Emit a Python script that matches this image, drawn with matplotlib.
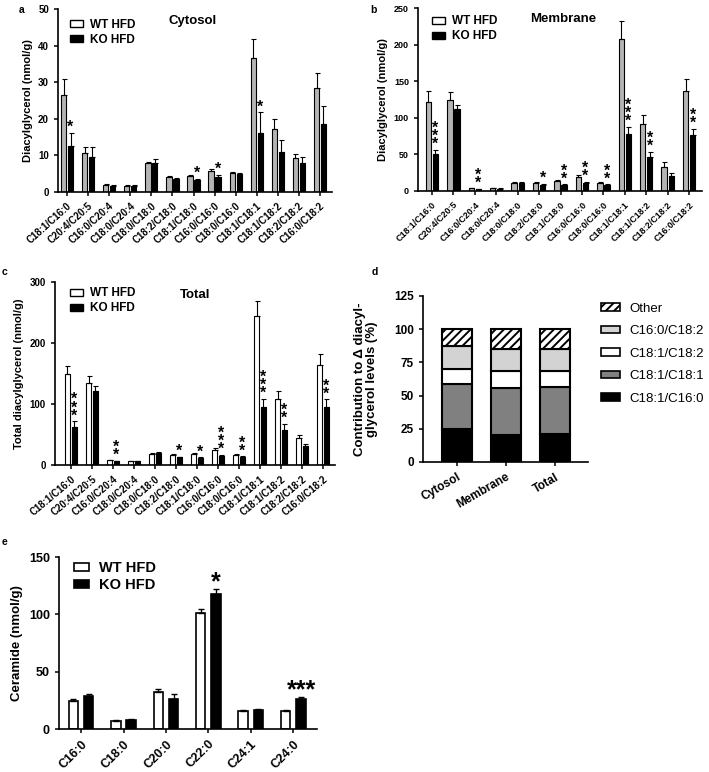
import matplotlib.pyplot as plt
import numpy as np
from matplotlib.patches import Patch

plt.rcParams['font.family'] = ['Liberation Sans', 'DejaVu Sans']
plt.rcParams['hatch.linewidth'] = 1.4

# ---- Data: diacylglycerol species (panels a-c) ----
species = ["C18:1/C16:0", "C20:4/C20:5", "C16:0/C20:4", "C18:0/C20:4", "C18:0/C18:0",
           "C18:2/C18:0", "C18:1/C18:0", "C16:0/C16:0", "C18:0/C16:0", "C18:1/C18:1",
           "C18:1/C18:2", "C18:2/C18:2", "C16:0/C18:2"]

cyto_wt = [26.5, 10.7, 2.0, 1.7, 7.8, 4.0, 4.4, 5.7, 5.2, 36.6, 17.3, 9.3, 28.4]
cyto_wt_err = [4.4, 1.6, 0.3, 0.2, 0.4, 0.4, 0.3, 0.7, 0.4, 5.1, 2.6, 1.0, 4.0]
cyto_ko = [12.5, 9.5, 1.7, 1.7, 8.0, 3.5, 3.3, 4.2, 4.8, 16.2, 10.8, 7.9, 18.7]
cyto_ko_err = [3.7, 2.8, 0.2, 0.2, 1.0, 0.3, 0.3, 0.5, 0.4, 5.6, 3.3, 1.6, 4.7]
cyto_stars = {0: "*", 6: "*", 7: "*", 9: "*"}

memb_wt = [121.6, 124.3, 3.6, 3.6, 11.3, 10.9, 13.2, 19.0, 10.9, 207.4, 92.1, 33.1, 136.6]
memb_wt_err = [15.0, 10.5, 0.9, 0.5, 1.4, 1.8, 1.8, 2.3, 1.8, 24.5, 12.3, 5.9, 16.8]
memb_ko = [49.9, 112.0, 2.3, 3.2, 11.3, 8.2, 7.7, 10.4, 7.7, 78.5, 46.7, 20.9, 76.0]
memb_ko_err = [6.4, 6.0, 0.4, 0.4, 1.4, 1.3, 1.4, 1.8, 1.4, 9.5, 6.8, 4.1, 9.0]
memb_stars = {0: "***", 2: "**", 5: "*", 6: "**", 7: "**", 8: "**", 9: "***", 10: "**", 12: "**"}

total_wt = [148.8, 135.1, 7.6, 6.5, 18.5, 15.8, 17.9, 25.0, 15.8, 244.1, 109.0, 43.5, 164.6]
total_wt_err = [13.6, 11.5, 0.8, 0.6, 1.5, 1.6, 2.1, 2.2, 1.6, 24.6, 13.0, 6.0, 16.9]
total_ko = [62.5, 121.5, 6.0, 6.5, 19.0, 12.5, 11.4, 15.2, 12.5, 94.8, 57.6, 30.4, 95.4]
total_ko_err = [9.2, 7.5, 0.6, 0.6, 1.6, 1.1, 1.1, 1.1, 1.6, 13.6, 9.8, 3.8, 12.0]
total_stars = {0: "***", 2: "**", 5: "*", 6: "*", 7: "***", 8: "**", 9: "***", 10: "**", 12: "**"}

# ---- Data: contribution to delta DAG (panel d) ----
fractions = ["Cytosol", "Membrane", "Total"]
contrib_labels = ["C18:1/C16:0", "C18:1/C18:1", "C18:1/C18:2", "C16:0/C18:2", "Other"]
contrib_c18_1_c16_0 = [24.7, 20.7, 21.2]
contrib_c18_1_c18_1 = [33.7, 35.3, 35.0]
contrib_c18_1_c18_2 = [11.6, 12.3, 12.1]
contrib_c16_0_c18_2 = [17.4, 17.1, 17.1]
contrib_other = [12.6, 14.6, 14.6]

# ---- Data: ceramide (panel e) ----
ceramides = ["C16:0", "C18:0", "C20:0", "C22:0", "C24:1", "C24:0"]
cer_wt = [24.5, 7.0, 32.5, 101.4, 15.5, 15.3]
cer_wt_err = [1.7, 0.8, 2.5, 3.6, 1.0, 1.2]
cer_ko = [28.5, 8.2, 26.5, 117.3, 16.8, 26.5]
cer_ko_err = [1.7, 0.6, 4.0, 4.7, 0.8, 1.7]

W, H = 709, 772
fig = plt.figure(figsize=(W / 100, H / 100), dpi=100)


def rect(x0, y0, x1, y1):
    # pixel box -> figure fraction
    return [x0 / W, 1 - y1 / H, (x1 - x0) / W, (y1 - y0) / H]


def style_axes(ax, tick_fs):
    for s in ("top", "right"):
        ax.spines[s].set_visible(False)
    for s in ("left", "bottom"):
        ax.spines[s].set_linewidth(1.2)
    ax.tick_params(width=1.1, length=3, labelsize=tick_fs)
    for lab in ax.get_yticklabels():
        lab.set_fontweight("bold")


def dag_panel(box, wt, wt_err, ko, ko_err, stars, ymax, ystep, ylabel, title,
              xlim, tick_fs, xlab_fs, rot, title_pos, leg_pos, wt_fill):
    ax = fig.add_axes(rect(*box))
    x = np.arange(len(species))
    off, w = 0.165, 0.25
    ax.bar(x - off, wt, w, color=wt_fill, edgecolor="black", linewidth=0.8)
    ax.bar(x + off, ko, w, color="black", edgecolor="black", linewidth=0.8)
    ax.errorbar(x - off, wt, yerr=[np.zeros(len(wt)), wt_err], fmt="none", ecolor="black",
                elinewidth=0.8, capsize=1.8, capthick=0.8)
    ax.errorbar(x + off, ko, yerr=[np.zeros(len(ko)), ko_err], fmt="none", ecolor="black",
                elinewidth=0.8, capsize=1.8, capthick=0.8)
    for i, s in stars.items():
        ax.annotate("\n".join(s), xy=(i + off, ko[i] + ko_err[i]), xytext=(0, -1.5),
                    textcoords="offset points", ha="center", va="bottom",
                    fontsize=11.5, fontweight="bold", linespacing=0.42)
    ax.set_xlim(*xlim)
    ax.set_ylim(0, ymax)
    ax.set_yticks(np.arange(0, ymax + 1, ystep))
    ax.set_xticks(x)
    ax.set_xticklabels(species, rotation=rot, ha="right", rotation_mode="anchor",
                       fontsize=xlab_fs, fontweight="bold")
    ax.set_ylabel(ylabel, fontsize=8, fontweight="bold")
    style_axes(ax, tick_fs)
    ax.text(title_pos[0], title_pos[1], title, transform=ax.transAxes, ha="center",
            va="center", fontsize=9.5, fontweight="bold")
    handles = [Patch(facecolor="white", edgecolor="black", linewidth=1.0, label="WT HFD"),
               Patch(facecolor="black", edgecolor="black", linewidth=1.0, label="KO HFD")]
    ax.legend(handles=handles, loc="upper left", bbox_to_anchor=leg_pos, frameon=False,
              borderpad=0, borderaxespad=0, handlelength=1.1, handleheight=0.55,
              handletextpad=0.6, labelspacing=0.25,
              prop={"size": 8.5, "weight": "bold"})
    return ax


# a - Cytosol
dag_panel((58, 9, 332, 192), cyto_wt, cyto_wt_err, cyto_ko, cyto_ko_err, cyto_stars,
          50, 10, "Diacylglycerol (nmol/g)", "Cytosol", (-0.43, 12.57), 7, 5.8, 42,
          (0.49, 0.935), (0.045, 0.945), "#b4b4b4")
# b - Membrane
dag_panel((418, 8, 702, 191), memb_wt, memb_wt_err, memb_ko, memb_ko_err, memb_stars,
          250, 50, "Diacylglycerol (nmol/g)", "Membrane", (-0.65, 12.6), 6.5, 7.5, 45,
          (0.51, 0.94), (0.05, 0.96), "#b4b4b4")
# c - Total
dag_panel((55, 282, 335, 465), total_wt, total_wt_err, total_ko, total_ko_err, total_stars,
          300, 100, "Total diacylglycerol (nmol/g)", "Total", (-0.76, 12.57), 7, 6.7, 40,
          (0.5, 0.93), (0.055, 0.97), "white")

# d - contribution stacked bars
axd = fig.add_axes(rect(423, 296, 588, 462))
xd = np.arange(len(fractions))
layers = [contrib_c18_1_c16_0, contrib_c18_1_c18_1, contrib_c18_1_c18_2,
          contrib_c16_0_c18_2, contrib_other]
fills = ["black", "#808080", "white", "#d3d3d3", "white"]
hatches = [None, None, None, None, "////"]
bottom = np.zeros(len(fractions))
for vals, fc, ht, lab in zip(layers, fills, hatches, contrib_labels):
    axd.bar(xd, vals, 0.61, bottom=bottom, color=fc, edgecolor="black", linewidth=1.5,
            hatch=ht, label=lab)
    bottom += np.array(vals)
axd.set_xlim(-0.69, 2.67)
axd.set_ylim(0, 125)
axd.set_yticks([0, 25, 50, 75, 100, 125])
axd.set_xticks(xd)
axd.set_xticklabels(fractions, rotation=30, ha="right", rotation_mode="anchor",
                    fontsize=8.5, fontweight="bold")
axd.set_ylabel("Contribution to \u0394 diacyl-\nglycerol levels (%)", fontsize=9.5,
               fontweight="bold", linespacing=1.0)
axd.yaxis.set_label_coords(-0.27, 0.5)
style_axes(axd, 8.5)
leg_handles = [Patch(facecolor=fc, edgecolor="black", linewidth=1.2, hatch=ht, label=lab)
               for fc, ht, lab in zip(fills, hatches, contrib_labels)][::-1]
axd.legend(handles=leg_handles, loc="upper left", bbox_to_anchor=(1.08, 0.96), frameon=False,
           borderpad=0, borderaxespad=0, handlelength=1.4, handleheight=0.5,
           handletextpad=0.7, labelspacing=0.8, prop={"size": 9.5})

# e - ceramide
axe = fig.add_axes(rect(59, 557, 317, 729))
xe = np.arange(len(ceramides))
off, w = 0.18, 0.22
e1 = axe.bar(xe - off, cer_wt, w, color="white", edgecolor="black", linewidth=1.2, label="WT HFD")
e2 = axe.bar(xe + off, cer_ko, w, color="black", edgecolor="black", linewidth=1.2, label="KO HFD")
axe.errorbar(xe - off, cer_wt, yerr=[np.zeros(6), cer_wt_err], fmt="none", ecolor="black",
             elinewidth=1.0, capsize=2.5, capthick=1.0)
axe.errorbar(xe + off, cer_ko, yerr=[np.zeros(6), cer_ko_err], fmt="none", ecolor="black",
             elinewidth=1.0, capsize=2.5, capthick=1.0)
axe.annotate("*", xy=(3 + off, cer_ko[3] + cer_ko_err[3]), xytext=(0, -4),
             textcoords="offset points", ha="center", va="bottom", fontsize=18,
             fontweight="bold")
axe.annotate("***", xy=(5 + 0.2, cer_ko[5] + cer_ko_err[5]), xytext=(0, -4),
             textcoords="offset points", ha="center", va="bottom", fontsize=18,
             fontweight="bold")
axe.set_xlim(-0.52, 5.56)
axe.set_ylim(0, 150)
axe.set_yticks([0, 50, 100, 150])
axe.set_xticks(xe)
axe.set_xticklabels(ceramides, rotation=45, ha="right", rotation_mode="anchor",
                    fontsize=7.8, fontweight="bold")
axe.set_ylabel("Ceramide (nmol/g)", fontsize=9.5, fontweight="bold")
style_axes(axe, 9)
axe.legend(handles=[e1, e2], loc="upper left", bbox_to_anchor=(0.06, 0.975), frameon=False,
           borderpad=0, borderaxespad=0, handlelength=1.0, handleheight=0.5,
           handletextpad=0.7, labelspacing=0.2, prop={"size": 10.5, "weight": "bold"})

# panel letters
for letter, px, py in [("a", 22, 10), ("b", 373, 10), ("c", 5, 272), ("d", 375, 272), ("e", 4, 542)]:
    fig.text(px / W, 1 - py / H, letter, ha="center", va="center", fontsize=7.5, fontweight="bold")

fig.savefig("out.png", dpi=100)
